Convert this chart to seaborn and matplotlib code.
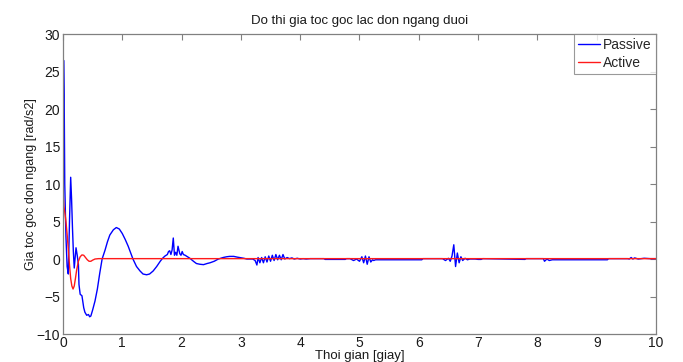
import numpy as np
import pandas as pd
import matplotlib
matplotlib.use("Agg")
import matplotlib.pyplot as plt
import seaborn as sns

# ---- data ----
t_passive = [0.00, 0.01, 0.02, 0.03, 0.05, 0.07, 0.09, 0.11, 0.13, 0.145, 0.16, 0.175, 0.19,
             0.205, 0.22, 0.24, 0.26, 0.27, 0.29, 0.32, 0.35, 0.37, 0.40, 0.43, 0.45, 0.47,
             0.50, 0.54, 0.58, 0.62, 0.66, 0.71, 0.75, 0.79, 0.85, 0.90, 0.95, 1.00, 1.05,
             1.10, 1.18, 1.24, 1.30, 1.35, 1.41, 1.46, 1.52, 1.58, 1.64, 1.68, 1.72, 1.76,
             1.78, 1.80, 1.82, 1.84, 1.86, 1.88, 1.90, 1.92, 1.94, 1.97, 1.99, 2.01, 2.03,
             2.06, 2.10, 2.14, 2.20, 2.25, 2.31, 2.37, 2.43, 2.48, 2.55, 2.62, 2.70, 2.76,
             2.81, 2.88, 2.94, 2.98, 3.05, 3.10, 3.15, 3.20, 3.24, 3.27, 3.29, 3.32, 3.35,
             3.38, 3.41, 3.44, 3.47, 3.50, 3.53, 3.56, 3.59, 3.62, 3.65, 3.68, 3.71, 3.74,
             3.78, 3.82, 3.86, 3.90, 3.95, 4.00, 4.05, 4.10, 4.17, 4.40, 4.42, 4.76, 4.78,
             4.84, 4.90, 4.95, 5.00, 5.04, 5.07, 5.10, 5.13, 5.16, 5.19, 5.22, 5.24, 5.27,
             5.30, 5.35, 5.40, 6.05, 6.07, 6.40, 6.45, 6.50, 6.53, 6.56, 6.59, 6.62, 6.65,
             6.68, 6.71, 6.74, 6.78, 6.82, 6.86, 6.90, 6.95, 7.00, 7.05, 7.08, 7.72, 7.74,
             7.79, 7.81, 8.10, 8.12, 8.16, 8.20, 8.25, 8.30, 8.35, 9.18, 9.20, 9.52, 9.55,
             9.58, 9.61, 9.64, 9.70, 9.80, 9.90, 10.00]
y_passive = [12.0, 26.5, 22.0, 10.0, 3.0, -1.0, -2.0, 5.0, 10.9, 8.0, 4.2, 1.0, -1.2,
             0.2, 1.5, 0.5, -0.7, -3.4, -4.7, -4.9, -6.5, -7.1, -7.5, -7.4, -7.7, -7.6,
             -6.8, -5.6, -4.0, -1.9, 0.0, 1.2, 2.3, 3.2, 3.9, 4.2, 4.0, 3.4, 2.6,
             1.7, 0.0, -1.0, -1.6, -2.0, -2.1, -2.0, -1.6, -1.0, -0.3, 0.1, 0.4, 0.6,
             1.0, 1.1, 0.6, 1.2, 2.8, 0.5, 0.9, 0.5, 1.7, 0.7, 0.5, 1.0, 0.6,
             0.5, 0.3, 0.1, -0.3, -0.6, -0.7, -0.75, -0.6, -0.5, -0.3, 0.0, 0.2, 0.3,
             0.35, 0.35, 0.25, 0.2, 0.1, 0.0, 0.0, 0.0, -0.2, -0.8, 0.2, -0.5, 0.2,
             -0.5, 0.3, -0.4, 0.4, -0.3, 0.5, -0.2, 0.6, -0.1, 0.5, -0.1, 0.6, 0.0,
             0.2, 0.05, 0.15, 0.0, 0.1, 0.0, 0.05, 0.0, 0.05, 0.05, -0.05, -0.05, 0.05,
             0.05, -0.2, 0.0, -0.3, 0.3, -0.5, 0.4, -0.7, 0.3, -0.4, -0.1, -0.2, -0.1,
             -0.1, -0.1, -0.1, -0.1, 0.05, 0.05, -0.2, 0.1, -0.3, 0.4, 1.9, -1.0, 0.8,
             -0.5, 0.3, -0.2, 0.1, -0.1, 0.0, 0.0, 0.0, -0.05, -0.05, 0.05, -0.05, -0.05,
             -0.05, 0.05, 0.05, -0.3, 0.0, -0.2, -0.1, -0.1, -0.1, -0.1, 0.05, 0.05, 0.0,
             0.2, 0.0, 0.15, 0.0, 0.1, 0.05, 0.05]

t_active = [0.00, 0.005, 0.015, 0.03, 0.05, 0.07, 0.09, 0.11, 0.13, 0.15, 0.17, 0.19,
            0.21, 0.23, 0.26, 0.29, 0.32, 0.35, 0.38, 0.41, 0.44, 0.47, 0.50, 0.54,
            0.60, 1.50, 10.00]
y_active = [12.7, 8.5, 7.0, 6.3, 5.0, 3.3, 1.3, -0.8, -2.6, -3.6, -4.0, -3.6,
            -2.6, -1.5, -0.3, 0.3, 0.55, 0.5, 0.2, -0.1, -0.3, -0.3, -0.15, 0.0,
            0.05, 0.05, 0.05]

series_names = ["Passive", "Active"]
x_ticks = list(range(0, 11))
y_ticks = [-10, -5, 0, 5, 10, 15, 20, 25, 30]

df = pd.concat([
    pd.DataFrame({"t": t_passive, "y": y_passive, "series": series_names[0]}),
    pd.DataFrame({"t": t_active, "y": y_active, "series": series_names[1]}),
], ignore_index=True)

sns.set_style("white")
plt.rcParams["font.family"] = ["Liberation Sans", "DejaVu Sans"]

fig = plt.figure(figsize=(6.83, 3.62), dpi=100)
ax = fig.add_axes([0.0922, 0.0773, 0.8683, 0.8287])

sns.lineplot(data=df, x="t", y="y", hue="series", palette={"Passive": "#0000ff", "Active": "#ff1a1a"},
             estimator=None, sort=False, linewidth=1.0, ax=ax)

ax.set_xlim(0, 10)
ax.set_ylim(-10, 30)
ax.set_xticks(x_ticks)
ax.set_yticks(y_ticks)
ax.tick_params(direction="in", length=4, width=0.8, color="#808080", top=True, right=True,
               labelsize=10, labelcolor="#1a1a1a")
ax.tick_params(axis="x", pad=1.5)
ax.tick_params(axis="y", pad=2)
for s in ax.spines.values():
    s.set_color("#808080")
    s.set_linewidth(0.9)
ax.set_title("Do thi gia toc goc lac don ngang duoi", fontsize=9.5, pad=7, color="#1a1a1a")
ax.set_xlabel("Thoi gian [giay]", fontsize=9.5, labelpad=0, color="#1a1a1a")
ax.set_ylabel("Gia toc goc don ngang [rad/s2]", fontsize=9, labelpad=0, color="#1a1a1a")

leg = ax.legend(loc="upper right", fontsize=10, frameon=True, fancybox=False, borderaxespad=0.0,
                handlelength=1.6, handletextpad=0.2, borderpad=0.3, labelspacing=0.25)
leg.get_frame().set_edgecolor("#808080")
leg.get_frame().set_linewidth(0.8)
leg.set_title(None)

fig.savefig("out.png", dpi=100, facecolor="white")
